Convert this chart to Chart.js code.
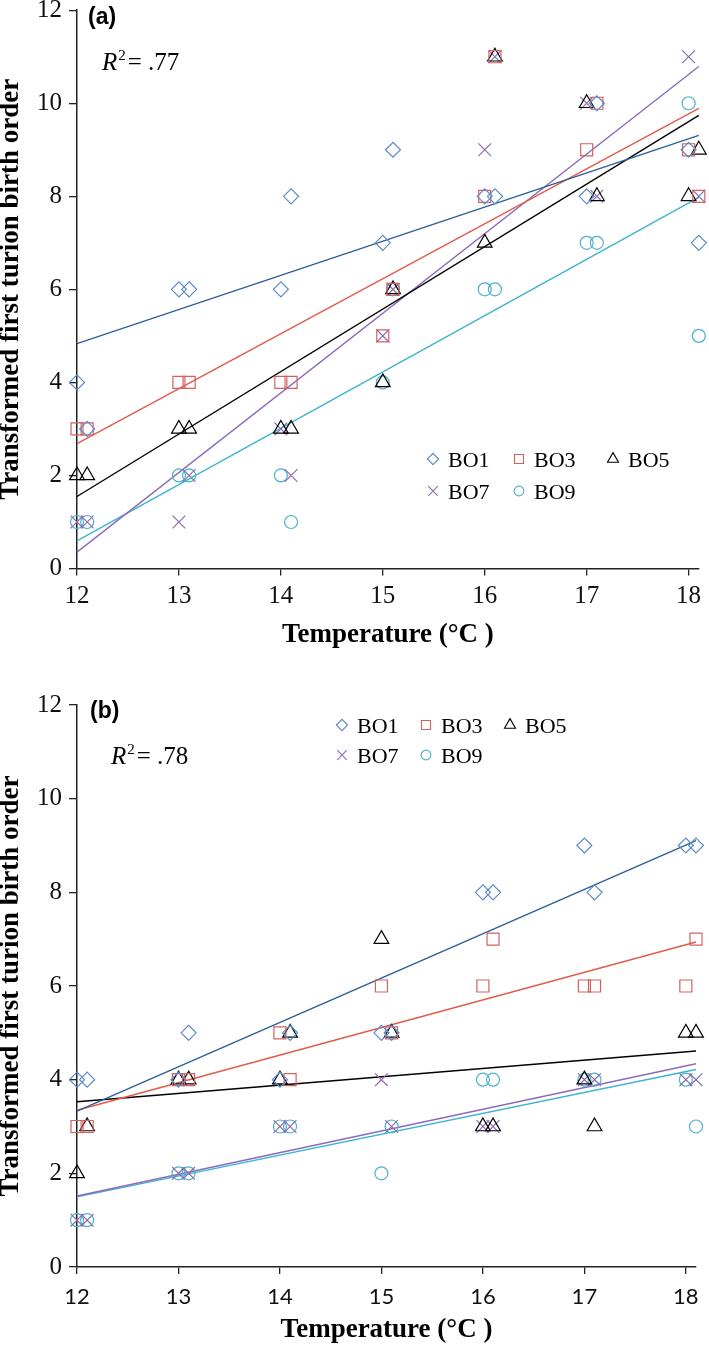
<!DOCTYPE html>
<html>
<head>
<meta charset="utf-8">
<script src="https://cdn.jsdelivr.net/npm/chart.js@4.4.3/dist/chart.umd.min.js"></script>
<style>
    html, body { margin: 0; padding: 0; background: #fff; }
    .panel { position: absolute; left: 0; width: 709px; }
    #panelA { top: 0; height: 665px; }
    #panelB { top: 665px; height: 682px; }
</style>
</head>
<body>
<div class="panel" id="panelA"><canvas id="chartA" width="709" height="665"></canvas></div>
<div class="panel" id="panelB"><canvas id="chartB" width="709" height="682"></canvas></div>
<script>
// temperatures (two replicates per level, offset by 0.1)
const temps = [12, 12.1, 13, 13.1, 14, 14.1, 15, 15.1, 16, 16.1, 17, 17.1, 18, 18.1];
const seriesNames = ['BO1', 'BO3', 'BO5', 'BO7', 'BO9'];

// panel (a)
const a_BO1 = [4, 3, 6, 6, 6, 8, 7, 9, 8, 8, 8, 10, 9, 7];
const a_BO3 = [3, 3, 4, 4, 4, 4, 5, 6, 8, 11, 9, 10, 9, 8];
const a_BO5 = [2, 2, 3, 3, 3, 3, 4, 6, 7, 11, 10, 8, 8, 9];
const a_BO7 = [1, 1, 1, 2, 3, 2, 5, 6, 9, 11, 10, 8, 11, 8];
const a_BO9 = [1, 1, 2, 2, 2, 1, 4, 6, 6, 6, 7, 7, 10, 5];

// panel (b)
const b_BO1 = [4, 4, 4, 5, 4, 5, 5, 5, 8, 8, 9, 8, 9, 9];
const b_BO3 = [3, 3, 4, 4, 5, 4, 6, 5, 6, 7, 6, 6, 6, 7];
const b_BO5 = [2, 3, 4, 4, 4, 5, 7, 5, 3, 3, 4, 3, 5, 5];
const b_BO7 = [1, 1, 2, 2, 3, 3, 4, 3, 3, 3, 4, 4, 4, 4];
const b_BO9 = [1, 1, 2, 2, 3, 3, 2, 3, 4, 4, 4, 4, 4, 3];

const r2Values = ['.77', '.78'];
const panelTags = ['(a)', '(b)'];
const xRange = [12, 18.1];
const yRange = [0, 12];

const markerColors = ['#5B8AC6', '#D2625F', '#000000', '#8C6DB1', '#4DB1CB'];
const lineColors = ['#2C5E9C', '#E25B4C', '#000000', '#8A6BBE', '#3DB4D0'];
const pointStyles = ['rectRot', 'rect', 'triangle', 'crossRot', 'circle'];
const pointSizes = [7.5, 8.5, 8.5, 9, 6.5];

const SERIF = '"Liberation Serif", "Times New Roman", serif';

function fitLine(xs, ys) {
    const n = xs.length;
    const mx = xs.reduce((s, v) => s + v, 0) / n;
    const my = ys.reduce((s, v) => s + v, 0) / n;
    let sxy = 0, sxx = 0;
    xs.forEach((x, i) => {
        sxy += (x - mx) * (ys[i] - my);
        sxx += (x - mx) * (x - mx);
    });
    const slope = sxy / sxx;
    const icpt = my - slope * mx;
    return xRange.map(x => ({ x: x, y: icpt + slope * x }));
}

function buildDatasets(allY) {
    const pts = allY.map((ys, i) => ({
        label: seriesNames[i],
        isSeries: true,
        data: temps.map((t, k) => ({ x: t, y: ys[k] })),
        pointStyle: pointStyles[i],
        pointRadius: pointSizes[i],
        pointBorderWidth: 1.2,
        pointBorderColor: markerColors[i],
        pointBackgroundColor: 'rgba(0,0,0,0)',
        borderColor: markerColors[i],
        showLine: false,
        clip: false
    }));
    const lines = allY.map((ys, i) => ({
        label: seriesNames[i] + ' trend',
        data: fitLine(temps, ys),
        showLine: true,
        borderColor: lineColors[i],
        borderWidth: 1.4,
        pointRadius: 0,
        clip: false
    }));
    return pts.concat(lines);
}

function fallbackPoint(ctx, style, r, x, y) {
    ctx.beginPath();
    if (style === 'circle') ctx.arc(x, y, r, 0, Math.PI * 2);
    else if (style === 'rect') { const s = r * Math.SQRT1_2; ctx.rect(x - s, y - s, 2 * s, 2 * s); }
    else if (style === 'rectRot') { ctx.moveTo(x, y - r); ctx.lineTo(x + r, y); ctx.lineTo(x, y + r); ctx.lineTo(x - r, y); ctx.closePath(); }
    else if (style === 'triangle') { ctx.moveTo(x, y - r); ctx.lineTo(x + r * 0.866, y + r / 2); ctx.lineTo(x - r * 0.866, y + r / 2); ctx.closePath(); }
    else { const s = r * Math.SQRT1_2; ctx.moveTo(x - s, y - s); ctx.lineTo(x + s, y + s); ctx.moveTo(x + s, y - s); ctx.lineTo(x - s, y + s); }
    ctx.stroke();
}

const decoPlugin = {
    id: 'deco',
    afterDraw(chart, args, opts) {
        const ctx = chart.ctx;
        ctx.save();
        ctx.fillStyle = '#000';
        ctx.textBaseline = 'alphabetic';
        ctx.textAlign = 'left';

        // panel tag
        ctx.font = 'bold 23px "Liberation Sans", Arial, sans-serif';
        ctx.fillText(opts.tag, opts.tagX, opts.tagY);

        // R^2 annotation
        ctx.font = 'italic 25px ' + SERIF;
        ctx.fillText('R', opts.r2X, opts.r2Y);
        let w = ctx.measureText('R').width;
        ctx.font = '15px ' + SERIF;
        ctx.fillText('2', opts.r2X + w + 1, opts.r2Y - 10);
        w += ctx.measureText('2').width + 3;
        ctx.font = '25px ' + SERIF;
        ctx.fillText('= ' + opts.r2, opts.r2X + w, opts.r2Y);

        // legend: 3 entries on first row, 2 on second
        ctx.font = '22px ' + SERIF;
        const series = chart.data.datasets.filter(d => d.isSeries);
        series.forEach((ds, i) => {
            const col = i % 3, row = Math.floor(i / 3);
            const cx = opts.legCols[col];
            const cy = opts.legRows[row];
            ctx.strokeStyle = ds.pointBorderColor;
            ctx.fillStyle = 'rgba(0,0,0,0)';
            ctx.lineWidth = 1.1;
            const r = ds.pointRadius * 0.75;
            if (Chart.helpers && Chart.helpers.drawPoint) {
                Chart.helpers.drawPoint(ctx, { pointStyle: ds.pointStyle, radius: r, borderWidth: 1.1, rotation: 0 }, cx, cy);
            } else {
                fallbackPoint(ctx, ds.pointStyle, r, cx, cy);
            }
            ctx.fillStyle = '#000';
            ctx.fillText(ds.label, cx + 15, cy + 8);
        });
        ctx.restore();
    }
};

function makeChart(canvasId, allY, cfg) {
    const ctx = document.getElementById(canvasId).getContext('2d');
    return new Chart(ctx, {
        type: 'scatter',
        data: { datasets: buildDatasets(allY) },
        plugins: [decoPlugin],
        options: {
            responsive: false,
            animation: false,
            layout: { padding: cfg.padding },
            plugins: {
                legend: { display: false },
                tooltip: { enabled: false },
                deco: cfg.deco
            },
            scales: {
                x: {
                    type: 'linear',
                    min: xRange[0],
                    max: xRange[1],
                    afterFit: (s) => { s.height = cfg.xAxisHeight; s.paddingLeft = 0; s.paddingRight = 0; },
                    ticks: {
                        stepSize: 1,
                        includeBounds: false,
                        color: '#111',
                        padding: cfg.xTickPad,
                        font: cfg.xTickFont
                    },
                    grid: { display: true, drawOnChartArea: false, drawTicks: true, tickLength: 7, color: '#222', lineWidth: 1.3 },
                    border: { display: true, color: '#222', width: 1.5 },
                    title: {
                        display: true,
                        text: 'Temperature (°C )',
                        color: '#000',
                        font: { family: SERIF, size: 27, weight: 'bold', lineHeight: 1 },
                        padding: { top: 0, bottom: cfg.xTitlePad }
                    }
                },
                y: {
                    type: 'linear',
                    min: yRange[0],
                    max: yRange[1],
                    afterFit: (s) => { s.width = 77; s.paddingTop = 0; s.paddingBottom = 0; },
                    ticks: {
                        stepSize: 2,
                        color: '#111',
                        padding: 7,
                        font: { family: SERIF, size: 25 }
                    },
                    grid: { display: true, drawOnChartArea: false, drawTicks: true, tickLength: 8, color: '#222', lineWidth: 1.3 },
                    border: { display: true, color: '#222', width: 1.5 },
                    title: {
                        display: true,
                        text: 'Transformed first turion birth order',
                        color: '#000',
                        font: { family: SERIF, size: 27, weight: 'bold', lineHeight: 0.85 },
                        padding: { top: 0, bottom: 0 }
                    }
                }
            }
        }
    });
}

makeChart('chartA', [a_BO1, a_BO3, a_BO5, a_BO7, a_BO9], {
    padding: { top: 7.5, right: 10, left: 0, bottom: 0 },
    xAxisHeight: 96.5,
    xTickPad: 6,
    xTitlePad: 16,
    xTickFont: { family: SERIF, size: 25 },
    deco: {
        tag: panelTags[0], tagX: 88, tagY: 24,
        r2: r2Values[0], r2X: 102, r2Y: 70,
        legCols: [433, 519, 613], legRows: [459, 491]
    }
});

makeChart('chartB', [b_BO1, b_BO3, b_BO5, b_BO7, b_BO9], {
    padding: { top: 40, right: 13, left: 0, bottom: 0 },
    xAxisHeight: 80,
    xTickPad: 10,
    xTitlePad: 3.5,
    xTickFont: { family: 'Lato, "Open Sans", sans-serif', size: 22 },
    deco: {
        tag: panelTags[1], tagX: 90, tagY: 53,
        r2: r2Values[1], r2X: 111, r2Y: 99,
        legCols: [342, 426, 510], legRows: [60, 90]
    }
});
</script>
</body>
</html>
